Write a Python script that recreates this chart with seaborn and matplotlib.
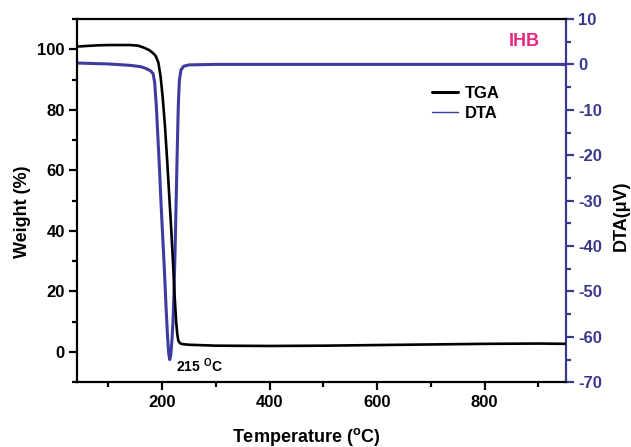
import numpy as np
import seaborn as sns
import matplotlib.pyplot as plt
from matplotlib.lines import Line2D
from matplotlib.ticker import MultipleLocator

# TGA curve (temperature in C, weight in %)
tga_temp = [42, 60, 80, 100, 120, 140, 155, 165, 175, 182, 188, 193, 197, 201, 205,
            209, 213, 217, 220, 223, 226, 228, 230, 233, 238, 250, 300, 400, 500,
            600, 700, 800, 900, 951]
tga_weight = [100.9, 101.1, 101.3, 101.4, 101.4, 101.4, 101.2, 100.6, 99.8, 98.9, 97.8,
              95.5, 91, 84, 75, 64, 52, 40, 30, 19, 10, 6, 3.8, 2.9, 2.6, 2.4, 2.1,
              2.0, 2.1, 2.3, 2.5, 2.7, 2.8, 2.7]

# DTA curve (temperature in C, signal in uV)
dta_temp = [42, 100, 140, 160, 170, 178, 183, 186, 189, 192, 195, 198, 201, 204, 207,
            210, 212, 214, 216, 218, 220, 222, 224, 226, 228, 230, 232, 235, 240, 250,
            300, 400, 500, 600, 700, 800, 900, 951]
dta_signal = [0.3, 0.1, -0.2, -0.5, -0.9, -1.4, -2.0, -4, -9, -16, -23, -31, -38, -45,
              -53, -60, -63.5, -65, -64, -61, -57, -50, -41, -30, -19, -9, -3.5, -1.2,
              -0.4, -0.1, 0.0, 0.0, 0.0, 0.0, 0.0, 0.0, 0.0, 0.0]

navy = '#39398c'
dta_color = '#3c3ca0'
pink = '#e8277f'

sns.set_style('ticks')
plt.rcParams['font.family'] = ['Liberation Sans', 'DejaVu Sans']
plt.rcParams['axes.unicode_minus'] = False
plt.rcParams['text.color'] = 'black'
plt.rcParams['mathtext.fontset'] = 'custom'
plt.rcParams['mathtext.rm'] = 'Liberation Sans:bold'
plt.rcParams['mathtext.bf'] = 'Liberation Sans:bold'
plt.rcParams['mathtext.it'] = 'Liberation Sans:bold'

fig = plt.figure(figsize=(6.31, 4.47), dpi=100)
ax = fig.add_axes([77.3 / 631, 1 - 382.3 / 447, (565.7 - 77.3) / 631, (382.3 - 19) / 447])
ax2 = ax.twinx()

sns.lineplot(x=dta_temp, y=dta_signal, ax=ax2, color=dta_color, lw=2.2)
sns.lineplot(x=tga_temp, y=tga_weight, ax=ax, color='black', lw=1.9)

# black curve drawn over the blue one
ax.set_zorder(ax2.get_zorder() + 1)
ax.patch.set_visible(False)

ax.set_xlim(42, 951)
ax.set_ylim(-10, 110)
ax2.set_ylim(-70, 10)

ax.xaxis.set_major_locator(MultipleLocator(200))
ax.xaxis.set_minor_locator(MultipleLocator(100))
ax.yaxis.set_major_locator(MultipleLocator(20))
ax.yaxis.set_minor_locator(MultipleLocator(10))
ax2.yaxis.set_major_locator(MultipleLocator(10))
ax2.yaxis.set_minor_locator(MultipleLocator(5))

for s in ['left', 'bottom', 'top']:
    ax.spines[s].set_linewidth(1.6)
    ax.spines[s].set_color('black')
ax.spines['right'].set_visible(False)
for s in ['left', 'bottom', 'top']:
    ax2.spines[s].set_visible(False)
ax2.spines['right'].set_color(navy)
ax2.spines['right'].set_linewidth(1.6)

ax.tick_params(axis='both', which='major', direction='out', length=6, width=1.6,
               labelsize=12, colors='black', pad=3)
ax.tick_params(axis='both', which='minor', direction='out', length=3.5, width=1.6, colors='black')
ax.tick_params(top=False, right=False, which='both')
ax2.tick_params(axis='y', which='major', direction='out', length=6, width=1.6,
                labelsize=12, colors=navy, pad=3)
ax2.tick_params(axis='y', which='minor', direction='out', length=3.5, width=1.6, colors=navy)

for lab in ax.get_xticklabels() + ax.get_yticklabels() + ax2.get_yticklabels():
    lab.set_fontweight('bold')

ax.set_xlabel('')
ax.set_ylabel('')
ax2.set_ylabel('')

fig.text(306.7 / 631, 1 - 437 / 447, r'Temperature ($^\mathrm{o}$C)', ha='center', va='center',
         fontsize=13, fontweight='bold', color='black')
fig.text(23 / 631, 1 - 212 / 447, 'Weight (%)', ha='center', va='center', rotation=90,
         fontsize=13, fontweight='bold', color='black')
fig.text(621.7 / 631, 1 - 215.5 / 447, 'DTA(\u03bcV)', ha='center', va='center', rotation=90,
         fontsize=13, fontweight='bold', color='black')

ax.text(524 / 631, 1 - 42 / 447, 'IHB', transform=fig.transFigure, ha='center', va='center',
        fontsize=13, fontweight='bold', color=pink)
ax.text(176.5 / 631, 1 - 366 / 447, r'215 $^\mathrm{O}$C', transform=fig.transFigure,
        ha='left', va='center', fontsize=10, fontweight='bold', color='black')

handles = [Line2D([], [], color='black', lw=2.2), Line2D([], [], color=dta_color, lw=1.0)]
leg = ax.legend(handles, ['TGA', 'DTA'], loc='upper left', bbox_to_anchor=(431.7 / 631, 1 - 86 / 447),
                bbox_transform=fig.transFigure, frameon=False, borderpad=0, borderaxespad=0,
                handlelength=1.6, handletextpad=0.4, labelspacing=0.32,
                prop={'weight': 'bold', 'size': 12})
for t in leg.get_texts():
    t.set_color('black')

fig.savefig('out.png', dpi=100)
